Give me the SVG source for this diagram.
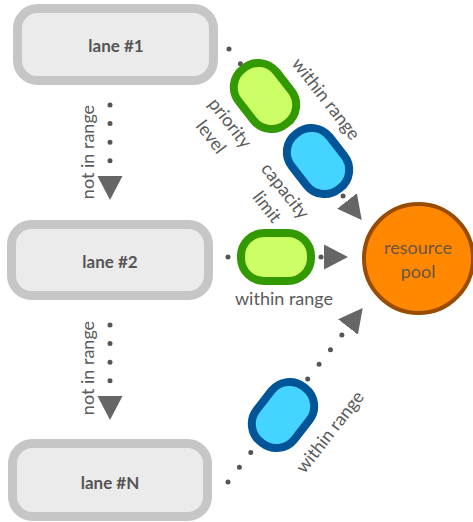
<svg xmlns="http://www.w3.org/2000/svg" width="473" height="522" viewBox="0 0 473 522">
<style>
.lane{fill:#ebebeb;stroke:#c6c6c6;stroke-width:9}
.lt{font-family:Lato,"Liberation Sans",sans-serif;font-weight:bold;font-size:17px;fill:#555;text-anchor:middle}
.el{font-family:Lato,"Liberation Sans",sans-serif;font-size:18px;fill:#5a5a5a;text-anchor:middle}
.dot{fill:none;stroke:#555;stroke-width:5;stroke-linecap:round;stroke-dasharray:0 18.6}
.gp{fill:#ccff66;stroke:#339900;stroke-width:8}
.bp{fill:#44d4ff;stroke:#005599;stroke-width:8}
.arr{fill:#666}
.pt{font-family:Lato,"Liberation Sans",sans-serif;font-size:18px;fill:#6b5540;text-anchor:middle}
</style>
<defs>
<marker id="ah" markerUnits="userSpaceOnUse" markerWidth="26" markerHeight="28" viewBox="0 -14 26 28" refX="0" refY="0" orient="auto">
<path d="M0,-12.5 L24,0 L0,12.5 z" class="arr"/>
</marker>
</defs>
<g id="connectors">
<line class="dot" x1="110" y1="105" x2="110" y2="176" marker-end="url(#ah)"/>
<line class="dot" x1="110" y1="325" x2="110" y2="396" marker-end="url(#ah)"/>
<line class="dot" x1="229" y1="49" x2="347" y2="201" marker-end="url(#ah)"/>
<line class="dot" x1="228" y1="257" x2="324" y2="257" marker-end="url(#ah)"/>
<line class="dot" x1="228" y1="482" x2="348" y2="327" marker-end="url(#ah)"/>
<text class="el" transform="translate(94,152) rotate(-90)">not in range</text>
<text class="el" transform="translate(94,368) rotate(-90)">not in range</text>
<text class="el" transform="translate(326,99) rotate(52)" y="6">within range</text>
<text class="el" x="284" y="305">within range</text>
<text class="el" transform="translate(330,432) rotate(-52)" y="6">within range</text>
<text class="el" transform="translate(230,123) rotate(52)" y="6">priority</text>
<text class="el" transform="translate(211,137) rotate(52)" y="6">level</text>
<text class="el" transform="translate(285,191) rotate(52)" y="6">capacity</text>
<text class="el" transform="translate(267,207) rotate(52)" y="6">limit</text>
</g>
<g id="gate1"><rect class="gp" x="-35" y="-24" width="70" height="48" rx="23" transform="translate(265,96) rotate(52)"/></g>
<g id="gate2"><rect class="bp" x="-35" y="-24" width="70" height="48" rx="23" transform="translate(318,161) rotate(52)"/></g>
<g id="gate3"><rect class="gp" x="-35" y="-24" width="70" height="48" rx="23" transform="translate(276,257)"/></g>
<g id="gate4"><rect class="bp" x="-35" y="-24" width="70" height="48" rx="23" transform="translate(283,415) rotate(-52)"/></g>
<g id="lane1"><rect class="lane" x="17.5" y="8.5" width="196" height="72" rx="20"/><text class="lt" x="116" y="52">lane #1</text></g>
<g id="lane2"><rect class="lane" x="11.5" y="224.5" width="197" height="71" rx="20"/><text class="lt" x="110" y="268">lane #2</text></g>
<g id="laneN"><rect class="lane" x="12.5" y="443.5" width="195" height="73" rx="20"/><text class="lt" x="110" y="489">lane #N</text></g>
<g id="pool"><circle cx="418.5" cy="258.5" r="54.5" fill="#ff8800" stroke="#994c00" stroke-width="4"/>
<text class="pt" x="418" y="254">resource</text>
<text class="pt" x="418" y="278">pool</text></g>
</svg>
